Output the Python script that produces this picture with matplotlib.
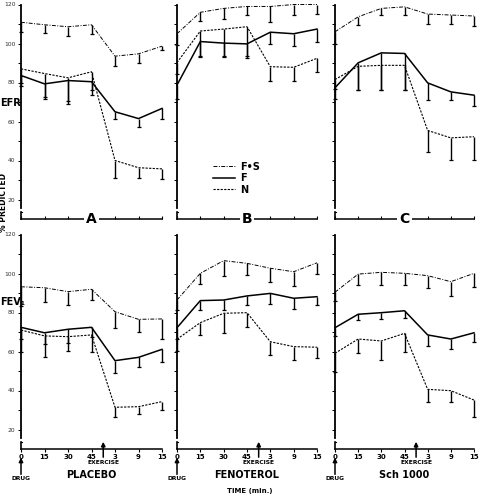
import matplotlib
matplotlib.use('Agg')
import matplotlib.pyplot as plt
import numpy as np
from matplotlib.lines import Line2D

W, H = 480, 497

time_labels = ['0', '15', '30', '45', '3', '9', '15']
panel_letters = ['A', 'B', 'C']
drug_names = ['PLACEBO', 'FENOTEROL', 'Sch 1000']
series_names = ['F•S', 'F', 'N']

# PEFR (% predicted), mean and lower SD bar, per drug
pefr_fs = [[110.9, 109.6, 108.6, 109.6, 93.5, 94.7, 98.6],
           [105, 116, 118, 119, 119, 120, 120],
           [106, 113.7, 118, 118.8, 115.1, 114.6, 114.1]]
pefr_fs_err = [[5, 4, 5, 4.5, 5, 4.5, 2],
               [6, 4.5, 5.5, 4.5, 8, 5.5, 5],
               [6, 4, 3.5, 4, 5, 4.5, 5]]
pefr_f = [[83.6, 79.3, 81.0, 80.4, 65.0, 61.5, 66.7],
          [78.7, 101, 100.2, 99.8, 105.8, 105, 107.4],
          [77.3, 90.1, 95.2, 94.9, 79.8, 75.2, 73.5]]
pefr_f_err = [[5.5, 8, 12, 7, 3.5, 4.5, 5.5],
              [7, 8, 7, 7, 6, 6.5, 6.5],
              [6, 14, 19, 18.5, 9, 4, 5.5]]
pefr_n = [[87.0, 84.6, 82.4, 85.5, 40.0, 36.3, 35.7],
          [90.2, 106.4, 107.4, 108.6, 88.1, 87.8, 92.4],
          [81.5, 88.3, 88.8, 88.8, 55.4, 51.6, 52.2]]
pefr_n_err = [[7, 12, 12, 9.5, 9, 5.5, 5],
              [6, 13, 14, 15, 7.5, 7, 7],
              [5, 12, 12.5, 12.5, 11, 11.5, 12]]

# FEV1 (% predicted)
fev_fs = [[93.2, 92.7, 90.7, 91.9, 80.4, 76.5, 76.7],
          [86.4, 100.1, 106.6, 105.2, 102.7, 100.9, 105.5],
          [90.4, 99.7, 100.6, 100.1, 98.9, 95.8, 100.1]]
fev_fs_err = [[10, 7.5, 7, 5.5, 8.5, 6.5, 10.5],
              [5, 5.5, 8, 6, 7, 7.5, 5.5],
              [4.5, 5.5, 6.5, 6, 6.5, 7.5, 7]]
fev_f = [[72.4, 69.6, 71.4, 72.4, 55.3, 57, 61.1],
         [72.2, 86.1, 86.4, 88.5, 89.8, 87.3, 88.1],
         [72.2, 79.1, 79.9, 80.9, 68.5, 66.4, 69.6]]
fev_f_err = [[6, 6, 7, 5, 6.5, 5, 6.5],
             [6, 5, 5, 4.5, 5.5, 5.5, 4],
             [4.5, 3, 3, 3.5, 5.5, 5, 4.5]]
fev_n = [[71, 68, 67.6, 68.5, 31.4, 31.7, 34.3],
         [66.3, 74.8, 79.6, 79.9, 65, 62.5, 62.2],
         [59.1, 66.4, 65.4, 69.3, 40.6, 39.9, 35.1]]
fev_n_err = [[11, 11, 7.5, 9, 5, 4, 4.5],
             [6, 6.5, 10, 7.5, 7, 7, 5.5],
             [9.5, 7, 10, 9.5, 6.5, 6, 8.5]]

styles = [dict(lw=0.7, dashes=(4, 1.5, 1, 1.5)),
          dict(lw=1.1, ls='-'),
          dict(lw=0.8, dashes=(2, 1.2))]


def px(x0, y0, x1, y1):
    # pixel box -> figure fraction rect
    return [x0 / W, 1 - y1 / H, (x1 - x0) / W, (y1 - y0) / H]


fig = plt.figure(figsize=(W / 100, H / 100), dpi=100)

col_x = [(21, 162), (177, 317), (335, 474)]
row_y = [(4.5, 219), (234.5, 449)]

rows = [
    ([pefr_fs, pefr_f, pefr_n], [pefr_fs_err, pefr_f_err, pefr_n_err]),
    ([fev_fs, fev_f, fev_n], [fev_fs_err, fev_f_err, fev_n_err]),
]

xs = np.arange(7)
arrow = dict(arrowstyle='-|>', lw=1.1, color='black', mutation_scale=6,
             shrinkA=0, shrinkB=0)

for r, (vals, errs) in enumerate(rows):
    for c in range(3):
        ax = fig.add_axes(px(col_x[c][0], row_y[r][0], col_x[c][1], row_y[r][1]))
        ax.set_xlim(0, 6)
        ax.set_ylim(10, 120)
        for s in range(3):
            y = np.array(vals[s][c])
            low = y - np.array(errs[s][c])
            # lower SD bars only, small cap at the bottom
            ax.vlines(xs, low, y, color='black', lw=1.0, clip_on=False)
            ax.plot(xs, low, ls='none', marker='_', ms=3, mew=0.9,
                    color='black', clip_on=False)
            ax.plot(xs, y, color='black', clip_on=False, **styles[s])
        for sp in ['top', 'right']:
            ax.spines[sp].set_visible(False)
        ax.spines['left'].set_bounds(15.5, 120)
        ax.spines['left'].set_linewidth(1.3)
        ax.spines['bottom'].set_linewidth(1.1)
        ax.plot([0, 0], [10, 13.5], color='black', lw=1.2, clip_on=False)
        ax.plot([0, 0.06], [13.5, 13.5], color='black', lw=0.8, clip_on=False)
        ax.set_yticks([20, 40, 60, 80, 100, 120])
        ax.set_yticks([30, 50, 70, 90, 110], minor=True)
        ax.tick_params(axis='y', which='both', direction='out', length=2.5,
                       width=0.7, pad=1.5)
        if c == 0:
            ax.set_yticklabels(['20', '40', '60', '80', '100', '120'],
                               fontsize=4.3, color='#333333')
        else:
            ax.set_yticklabels([])
        ax.set_xticks(xs)
        if r == 0:
            ax.tick_params(axis='x', direction='in', length=2.5, width=0.8)
            ax.set_xticklabels([])
            ax.text(3, 10, panel_letters[c], ha='center', va='center',
                    fontsize=10, fontweight='bold', zorder=6, clip_on=False,
                    bbox=dict(facecolor='white', edgecolor='none', pad=1.5))
        else:
            ax.tick_params(axis='x', direction='out', length=2.5, width=0.8, pad=1)
            ax.set_xticklabels(time_labels, fontsize=5, fontweight='bold')
            ax.annotate('', xy=(3.5, 13.7), xytext=(3.5, 5.8),
                        xycoords='data', textcoords='data', arrowprops=arrow,
                        annotation_clip=False)
            ax.annotate('', xy=(0, 5.6), xytext=(0, -3.0),
                        xycoords='data', textcoords='data', arrowprops=arrow,
                        annotation_clip=False)
            ax.text(3.5, 3.3, 'EXERCISE', ha='center', va='center', fontsize=4.3,
                    fontweight='bold', clip_on=False)
            ax.text(0, -5.0, 'DRUG', ha='center', va='center', fontsize=4.3,
                    fontweight='bold', clip_on=False)
            ax.text(3, -3.3, drug_names[c], ha='center', va='center', fontsize=7,
                    fontweight='bold', clip_on=False)
        if r == 0 and c == 1:
            handles = [Line2D([], [], color='black', **styles[s]) for s in range(3)]
            ax.legend(handles, series_names, loc='upper left',
                      bbox_to_anchor=(0.22, 0.29), frameon=False,
                      prop=dict(size=7, weight='bold'), handlelength=2.3,
                      handletextpad=0.5, labelspacing=0.15, borderpad=0)

fig.text(0.0, 1 - 103 / H, 'EFR', ha='left', va='center', fontsize=7, fontweight='bold')
fig.text(0.0, 1 - 302 / H, 'FEV₁', ha='left', va='center', fontsize=7, fontweight='bold')
fig.text(4 / W, 1 - 203 / H, '% PREDICTED', rotation=90, ha='center', va='center',
         fontsize=5.5, fontweight='bold')
fig.text(250 / W, 1 - 491 / H, 'TIME (min.)', ha='center', va='center', fontsize=5,
         fontweight='bold')

fig.savefig('out.png', dpi=100, facecolor='white')
